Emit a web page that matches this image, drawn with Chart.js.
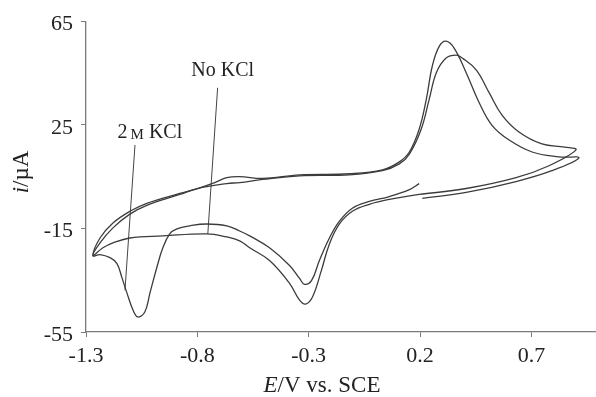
<!DOCTYPE html>
<html>
<head>
<meta charset="utf-8">
<script src="https://cdn.jsdelivr.net/npm/chart.js@4.4.1/dist/chart.umd.min.js"></script>
<style>
  html, body { margin: 0; padding: 0; background: #fff; }
  #wrap { width: 596px; height: 397px; position: relative; }
</style>
</head>
<body>
<div id="wrap"><canvas id="cv"></canvas></div>
<script>
// Ticks
const xTicks = [-1.3, -0.8, -0.3, 0.2, 0.7];
const yTicks = [-55, -15, 25, 65];

// 2 M KCl: potential (V vs SCE) and current (uA), in sweep order
const kclE = [0.210, 0.407, 0.631, 0.792, 0.913, 0.824, 0.703, 0.600, 0.523, 0.465, 0.407, 0.353, 0.317, 0.286, 0.255, 0.228, 0.196, 0.152, 0.107, 0.031, -0.117, -0.341, -0.507, -0.610, -0.668, -0.722, -0.800, -0.879, -1.027, -1.103, -1.179, -1.237, -1.269, -1.237, -1.192, -1.161, -1.139, -1.116, -1.089, -1.067, -1.036, -1.013, -0.982, -0.955, -0.924, -0.892, -0.834, -0.758, -0.668, -0.610, -0.565, -0.476, -0.386, -0.341, -0.319, -0.287, -0.252, -0.207, -0.162, -0.104, -0.028, 0.062, 0.152, 0.196];
const kclI = [-3.4, -1.1, 3.1, 7.3, 12.2, 12.6, 14.5, 19.1, 24.8, 33.6, 45.1, 54.6, 57.3, 55.3, 47.7, 34.8, 23.3, 14.5, 10.7, 7.6, 6.1, 5.7, 4.3, 5.0, 4.6, 2.7, 0.4, -1.5, -5.3, -8.4, -12.9, -18.7, -25.5, -25.1, -26.3, -28.6, -33.9, -40.0, -46.5, -49.2, -47.3, -40.0, -30.1, -22.5, -17.1, -15.2, -14.0, -13.3, -14.0, -16.0, -17.9, -22.5, -29.3, -34.3, -36.6, -35.1, -27.4, -18.7, -12.2, -7.2, -4.6, -2.7, 0.0, 2.3];

// No KCl
const noE = [0.196, 0.407, 0.631, 0.779, 0.900, 0.850, 0.747, 0.644, 0.568, 0.510, 0.452, 0.389, 0.362, 0.317, 0.273, 0.241, 0.205, 0.152, 0.107, 0.031, -0.117, -0.341, -0.507, -0.610, -0.668, -0.800, -0.879, -1.027, -1.103, -1.179, -1.237, -1.269, -1.224, -1.179, -1.103, -0.955, -0.758, -0.668, -0.610, -0.565, -0.476, -0.386, -0.341, -0.314, -0.283, -0.243, -0.207, -0.162, -0.104, -0.028, 0.062, 0.196];
const noI = [-1.9, 0.4, 4.6, 9.2, 15.3, 16.4, 17.6, 22.2, 28.7, 37.4, 46.2, 50.8, 51.9, 50.8, 45.1, 34.8, 23.3, 13.7, 9.9, 7.3, 5.7, 5.3, 3.9, 2.7, 2.3, 0.4, -1.9, -6.1, -9.5, -14.8, -20.6, -25.5, -22.5, -20.6, -18.7, -17.9, -17.1, -18.3, -19.8, -22.5, -27.4, -36.2, -42.7, -44.2, -41.5, -31.2, -21.0, -13.3, -8.4, -5.7, -3.8, -1.9];

// leader lines and label anchors (data coords)
const kclLeaderE = [-1.080, -1.125];
const kclLeaderI = [17.2, -38.9];
const noLeaderE = [-0.709, -0.753];
const noLeaderI = [39.3, -17.1];
const labelE = [-1.013, -0.686];
const labelI = [21.8, 45.8];

const serif = '"Liberation Serif", "DejaVu Serif", serif';
const lineColor = '#3c3c3c';
const axisColor = '#7a7a7a';

function toPoints(xs, ys) {
    return xs.map((v, i) => ({ x: v, y: ys[i] }));
}

// draw a row of text pieces with different fonts, centred on cx
function drawRuns(ctx, runs, cx, cy) {
    let total = 0;
    runs.forEach(r => { ctx.font = r.font; r.w = ctx.measureText(r.text).width; total += r.w; });
    let pos = cx - total / 2;
    ctx.textAlign = 'left';
    ctx.textBaseline = 'middle';
    runs.forEach(r => {
        ctx.font = r.font;
        ctx.fillText(r.text, pos, cy + (r.dy || 0));
        pos += r.w;
    });
}

const textPlugin = {
    id: 'textPlugin',
    afterDraw(chart) {
        const ctx = chart.ctx;
        const sx = chart.scales.x, sy = chart.scales.y;
        ctx.save();
        ctx.fillStyle = '#222';

        // curve labels
        drawRuns(ctx, [
            { text: '2', font: '20px ' + serif },
            { text: '\u2009M', font: '15px ' + serif, dy: 1.5 },
            { text: ' KCl', font: '20px ' + serif }
        ], sx.getPixelForValue(labelE[0]), sy.getPixelForValue(labelI[0]));
        drawRuns(ctx, [
            { text: 'No KCl', font: '20px ' + serif }
        ], sx.getPixelForValue(labelE[1]), sy.getPixelForValue(labelI[1]));

        // x axis title
        drawRuns(ctx, [
            { text: 'E', font: 'italic 23px ' + serif },
            { text: '/V vs. SCE', font: '23px ' + serif }
        ], 322, 386);

        // y axis title
        ctx.translate(22, 172);
        ctx.rotate(-Math.PI / 2);
        drawRuns(ctx, [
            { text: 'i', font: 'italic 23px ' + serif },
            { text: '/\u00b5A', font: '23px ' + serif }
        ], 0, 0);
        ctx.restore();
    }
};

const curveStyle = {
    showLine: true,
    borderColor: lineColor,
    borderWidth: 1.3,
    pointRadius: 0,
    tension: 0.4,
    fill: false
};

new Chart(document.getElementById('cv'), {
    type: 'scatter',
    data: {
        datasets: [
            Object.assign({ label: '2 M KCl', data: toPoints(kclE, kclI) }, curveStyle),
            Object.assign({ label: 'No KCl', data: toPoints(noE, noI) }, curveStyle),
            { label: 'lead1', data: toPoints(kclLeaderE, kclLeaderI), showLine: true, borderColor: '#444', borderWidth: 1, pointRadius: 0 },
            { label: 'lead2', data: toPoints(noLeaderE, noLeaderI), showLine: true, borderColor: '#444', borderWidth: 1, pointRadius: 0 }
        ]
    },
    options: {
        responsive: true,
        maintainAspectRatio: false,
        animation: false,
        layout: { padding: { top: 18, right: 0, left: 0, bottom: 0 } },
        plugins: {
            legend: { display: false },
            tooltip: { enabled: false }
        },
        scales: {
            x: {
                type: 'linear',
                min: -1.3,
                max: 0.99,
                afterBuildTicks: s => { s.ticks = xTicks.map(v => ({ value: v })); },
                afterFit: s => { s.height = 65; },
                grid: { drawOnChartArea: false, tickLength: 5, color: axisColor },
                border: { color: axisColor, width: 1.3 },
                ticks: {
                    color: '#222',
                    font: { family: serif, size: 22 },
                    padding: 6,
                    maxRotation: 0,
                    callback: v => v.toFixed(1)
                }
            },
            y: {
                type: 'linear',
                min: -55,
                max: 65,
                afterBuildTicks: s => { s.ticks = yTicks.map(v => ({ value: v })); },
                afterFit: s => { s.width = 86; },
                grid: { drawOnChartArea: false, tickLength: 5, color: axisColor },
                border: { color: axisColor, width: 1.3 },
                ticks: {
                    color: '#222',
                    font: { family: serif, size: 22 },
                    padding: 8,
                    labelOffset: 3,
                    callback: v => String(v)
                }
            }
        }
    },
    plugins: [textPlugin]
});
</script>
</body>
</html>
